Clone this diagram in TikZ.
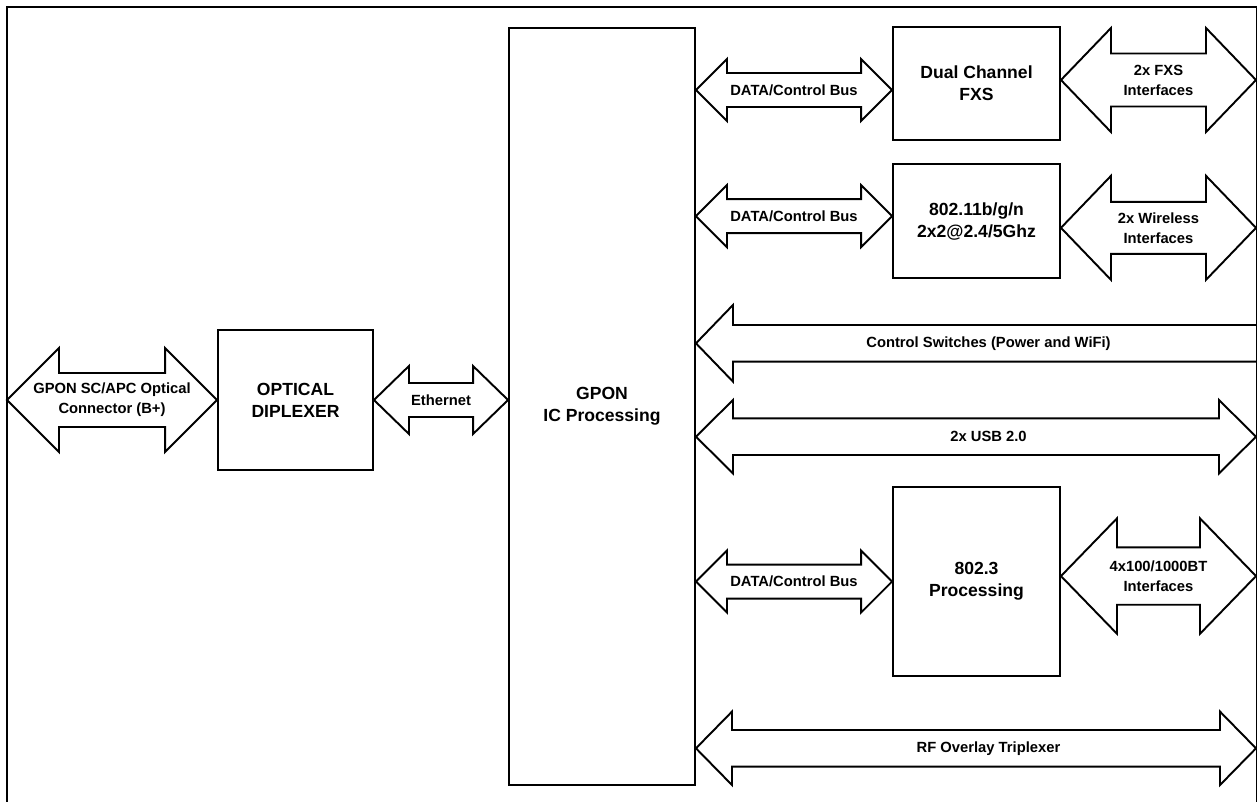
\documentclass[tikz,border=0pt]{standalone}
\usepackage{fontspec}
\setmainfont{Liberation Sans}
\usetikzlibrary{positioning, calc}

% Block arrow from tip #1 to tip #2: shaft half width #3, head half width #4, head length #5
\newcommand{\blockarrow}[5]{%
  \draw[bigarrow] (#1) -- ++(#5,-#4) -- ++(0,#4-#3)
    -- ($(#2)+(-#5,-#3)$) -- ++(0,#3-#4) -- (#2)
    -- ++(-#5,#4) -- ++(0,#3-#4)
    -- ($(#1)+(#5,#3)$) -- ++(0,#4-#3) -- cycle;%
}

\begin{document}
\begin{tikzpicture}[
    x=0.2mm, y=-0.2mm,
    box/.style={
        draw,
        line width=1.1pt,
        rectangle,
        inner sep=0pt,
        align=center,
        font=\fontsize{10}{12.5}\selectfont\bfseries
    },
    lbl/.style={
        inner sep=0pt,
        align=center,
        font=\fontsize{8.4}{11.3}\selectfont\bfseries
    },
    bigarrow/.style={draw, line width=1.1pt, line join=miter},
    frame/.style={draw, line width=1.7pt}
]

\useasboundingbox (0,0) rectangle (1257,802);

% Outer frame
\draw[frame] (7,830) -- (7,7) -- (1257.5,7) -- (1257.5,830);
\coordinate (edge) at (1256,0);

% Main blocks
\node[box, minimum width=31mm, minimum height=28mm] (diplexer) at (295.5,400) {OPTICAL\\DIPLEXER};
\node[box, minimum width=37.2mm, minimum height=151.4mm] (gpon) at (602,406.5) {GPON\\IC Processing};

% Peripheral blocks
\node[box, minimum width=33.4mm, minimum height=22.5mm] (fxs) at (976.5,83.7) {Dual Channel\\FXS};
\node[box, minimum width=33.4mm, minimum height=22.7mm, below=4.5mm of fxs] (wlan) {802.11b/g/n\\2x2@2.4/5Ghz};
\node[box, minimum width=33.4mm, minimum height=37.7mm, below=41.5mm of wlan] (proc) {802.3\\Processing};

% Optical side
\coordinate (optl) at (7,400);
\blockarrow{optl}{diplexer.west}{27}{52}{52}
\node[lbl] (opttxt) at ($(optl)!0.5!(diplexer.west)$) {GPON SC/APC Optical\\Connector (B+)};

\blockarrow{diplexer.east}{gpon.west |- diplexer.east}{17}{34}{35}
\node[lbl] (ethtxt) at ($(diplexer.east)!0.5!(gpon.west |- diplexer.east)$) {Ethernet};

% Data/control buses
\coordinate (bus1l) at ($(gpon.east |- fxs.west)+(0,6.3)$);
\coordinate (bus1r) at ($(fxs.west)+(0,6.3)$);
\coordinate (bus2l) at ($(gpon.east |- wlan.west)+(0,-5)$);
\coordinate (bus2r) at ($(wlan.west)+(0,-5)$);
\coordinate (bus3l) at (gpon.east |- proc.west);
\coordinate (bus3r) at (proc.west);

\blockarrow{bus1l}{bus1r}{17}{31}{31}
\blockarrow{bus2l}{bus2r}{17}{31}{31}
\blockarrow{bus3l}{bus3r}{17}{31}{31}
\node[lbl] (bus1txt) at ($(bus1l)!0.5!(bus1r)$) {DATA/Control Bus};
\node[lbl] (bus2txt) at ($(bus2l)!0.5!(bus2r)$) {DATA/Control Bus};
\node[lbl] (bus3txt) at ($(bus3l)!0.5!(bus3r)$) {DATA/Control Bus};

% External interfaces
\coordinate (if1l) at ($(fxs.east)+(0,-3.7)$);
\coordinate (if1r) at (if1l -| edge);
\coordinate (if2l) at ($(wlan.east)+(0,6.7)$);
\coordinate (if2r) at (if2l -| edge);
\coordinate (if3l) at ($(proc.east)+(0,-5.5)$);
\coordinate (if3r) at (if3l -| edge);

\blockarrow{if1l}{if1r}{26.5}{52}{50}
\blockarrow{if2l}{if2r}{26}{52}{50}
\blockarrow{if3l}{if3r}{28.7}{57.7}{56}
\node[lbl] (if1txt) at ($(if1l)!0.5!(if1r)$) {2x FXS\\Interfaces};
\node[lbl] (if2txt) at ($(if2l)!0.5!(if2r)$) {2x Wireless\\Interfaces};
\node[lbl] (if3txt) at ($(if3l)!0.5!(if3r)$) {4x100/1000BT\\Interfaces};

% Control switches (open at the frame)
\coordinate (ctrll) at ($(gpon.east)+(0,-63.2)$);
\coordinate (ctrlr) at (ctrll -| 1257,0);
\draw[bigarrow] ($(ctrlr)+(0,-18.3)$) -- ($(ctrll)+(37,-18.3)$) -- ++(0,-20) -- (ctrll)
    -- ++(37,38.3) -- ++(0,-20) -- ($(ctrlr)+(0,18.3)$);
\node[lbl, xshift=2.4mm] (ctrltxt) at ($(ctrll)!0.5!(ctrlr)$) {Control Switches (Power and WiFi)};

% USB and RF overlay
\coordinate (usbl) at ($(gpon.east)+(0,30.2)$);
\coordinate (usbr) at (usbl -| edge);
\coordinate (rfl) at ($(gpon.east)+(0,341.8)$);
\coordinate (rfr) at (rfl -| edge);

\blockarrow{usbl}{usbr}{18.3}{36.7}{37}
\blockarrow{rfl}{rfr}{18.3}{36.7}{36}
\node[lbl, xshift=2.5mm] (usbtxt) at ($(usbl)!0.5!(usbr)$) {2x USB 2.0};
\node[lbl, xshift=2.5mm] (rftxt) at ($(rfl)!0.5!(rfr)$) {RF Overlay Triplexer};

\end{tikzpicture}
\end{document}
